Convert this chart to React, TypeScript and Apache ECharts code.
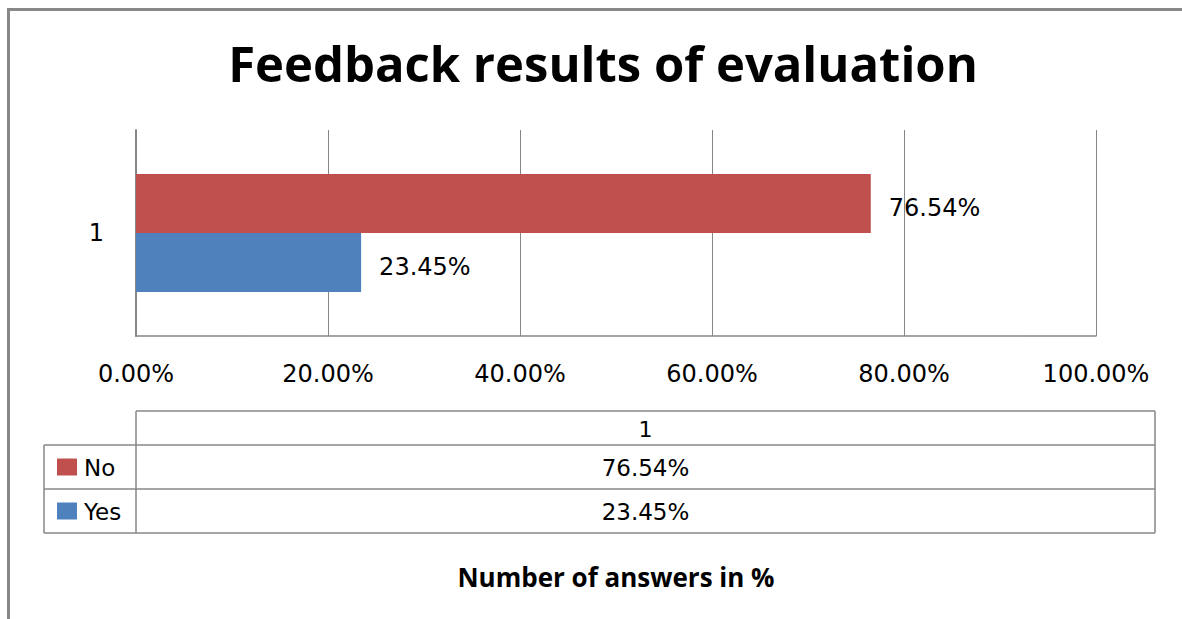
import React, { useEffect, useRef } from "react";
import * as echarts from "echarts";

const titleText = "Feedback results of evaluation";
const footerText = "Number of answers in %";
const categories = ["1"];
const seriesNames = ["No", "Yes"];
const seriesColors = ["#C0504D", "#4F81BD"];
const noValues = [76.54];
const yesValues = [23.45];
const xTicks = [0, 20, 40, 60, 80, 100];

const fmt = (v: number) => v.toFixed(2) + "%";

export default function App() {
  const ref = useRef<HTMLDivElement>(null);
  useEffect(() => {
    document.body.style.margin = "0";
    const chart = echarts.init(ref.current!, undefined, { renderer: "svg" });
    const numFont = "DejaVu Sans";
    const gray = "#878787";
    // table geometry
    const tL = 44, tC = 136, tR = 1155;
    const rows = [411, 445, 489, 533];
    const allValues = [noValues, yesValues];
    const graphics: any[] = [];
    // outer frame (top + left)
    graphics.push({ type: "rect", shape: { x: 7, y: 8, width: 1175, height: 3 }, style: { fill: "#888" } });
    graphics.push({ type: "rect", shape: { x: 7, y: 8, width: 3, height: 611 }, style: { fill: "#888" } });
    // table lines
    const ls = { stroke: gray, lineWidth: 1.5 };
    graphics.push({ type: "line", shape: { x1: tC, y1: rows[0], x2: tR, y2: rows[0] }, style: ls });
    for (let i = 1; i < rows.length; i++) {
      graphics.push({ type: "line", shape: { x1: tL, y1: rows[i], x2: tR, y2: rows[i] }, style: ls });
    }
    graphics.push({ type: "line", shape: { x1: tL, y1: rows[1], x2: tL, y2: rows[3] }, style: ls });
    graphics.push({ type: "line", shape: { x1: tC, y1: rows[0], x2: tC, y2: rows[3] }, style: ls });
    graphics.push({ type: "line", shape: { x1: tR, y1: rows[0], x2: tR, y2: rows[3] }, style: ls });
    // header
    graphics.push({
      type: "text", x: (tC + tR) / 2, y: (rows[0] + rows[1]) / 2 + 1,
      style: { text: categories[0], fill: "#000", font: `22px "${numFont}"`, textAlign: "center", textVerticalAlign: "middle" },
    });
    seriesNames.forEach((name, i) => {
      const yc = (rows[i + 1] + rows[i + 2]) / 2;
      graphics.push({ type: "rect", shape: { x: 57, y: yc - 8.5, width: 20, height: 17 }, style: { fill: seriesColors[i] } });
      graphics.push({
        type: "text", x: 84, y: yc + 1,
        style: { text: name, fill: "#000", font: `23px "${numFont}"`, textAlign: "left", textVerticalAlign: "middle" },
      });
      graphics.push({
        type: "text", x: (tC + tR) / 2, y: yc + 1,
        style: { text: fmt(allValues[i][0]), fill: "#000", font: `23px "${numFont}"`, textAlign: "center", textVerticalAlign: "middle" },
      });
    });
    // footer
    graphics.push({
      type: "text", x: 616, y: 577,
      style: { text: footerText, fill: "#000", font: `bold 26px "Open Sans"`, textAlign: "center", textVerticalAlign: "middle" },
    });

    const labelStyle = { show: true, position: "right", distance: 18, offset: [0, 4], formatter: (p: any) => fmt(p.value), fontFamily: numFont, fontSize: 24, color: "#000" };

    chart.setOption({
      animation: false,
      backgroundColor: "#fff",
      title: {
        text: titleText,
        left: 598,
        textAlign: "center",
        top: 33,
        textStyle: { fontFamily: "Open Sans", fontWeight: "bold", fontSize: 49, color: "#000" },
      },
      grid: { left: 136, right: 86, top: 130, bottom: 283, containLabel: false },
      xAxis: {
        type: "value",
        min: xTicks[0],
        max: xTicks[xTicks.length - 1],
        interval: xTicks[1] - xTicks[0],
        axisLine: { show: true, lineStyle: { color: gray, width: 1.5 } },
        axisTick: { show: false },
        splitLine: { show: true, lineStyle: { color: gray, width: 1 } },
        axisLabel: { formatter: (v: number) => fmt(v), fontFamily: numFont, fontSize: 24, color: "#000", margin: 26 },
      },
      yAxis: {
        type: "category",
        data: categories,
        axisLine: { show: true, lineStyle: { color: gray, width: 2 } },
        axisTick: { show: false },
        axisLabel: { fontFamily: numFont, fontSize: 24, color: "#000", margin: 32 },
      },
      series: [
        {
          name: seriesNames[0], type: "bar", data: noValues, barWidth: 59, barGap: "0%",
          itemStyle: { color: seriesColors[0] },
          label: labelStyle,
        },
        {
          name: seriesNames[1], type: "bar", data: yesValues, barWidth: 59, barGap: "0%",
          itemStyle: { color: seriesColors[1] },
          label: labelStyle,
        },
      ],
      graphic: graphics,
    });
    return () => chart.dispose();
  }, []);
  return <div ref={ref} style={{ width: 1182, height: 619 }} />;
}
